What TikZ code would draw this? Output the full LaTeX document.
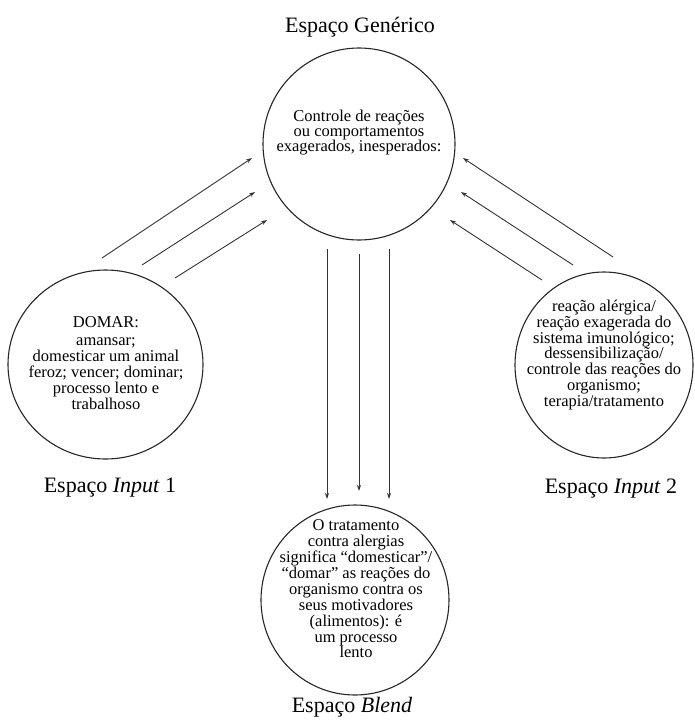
\documentclass[tikz,border=0pt]{standalone}
\usepackage{fontspec}
\setmainfont{Liberation Serif}
\newfontfamily\capserif{Liberation Serif}
\usetikzlibrary{arrows.meta,shapes.geometric}
\begin{document}
\begin{tikzpicture}[x=1pt,y=-1pt,
  space/.style={draw=black!85,line width=1.1pt,ellipse,inner sep=0pt},
  spacetext/.style={align=center,inner sep=0pt,text=black},
  caption/.style={anchor=base,inner sep=0pt,text=black,font=\capserif\fontsize{22}{24}\selectfont},
  link/.style={draw=black!80,line width=0.9pt,-{Stealth[length=6pt,width=4pt]}}]
\useasboundingbox (0,0) rectangle (694,726);

% the four mental spaces
\node[space,minimum width=192pt,minimum height=192pt] (gen) at (359,144) {};
\node[space,minimum width=195pt,minimum height=189pt] (in1) at (105.5,364.5) {};
\node[space,minimum width=178pt,minimum height=186pt] (in2) at (604,365) {};
\node[space,minimum width=188pt,minimum height=190pt] (bl) at (355,600) {};

% contents of each space
\node[spacetext,font=\capserif\fontsize{16.5}{15}\selectfont] (gentext) at (359,133)
  {Controle de reações\\ou comportamentos\\exagerados, inesperados:};
\node[spacetext,font=\capserif\fontsize{16.5}{16}\selectfont] (in1text) at (106,363)
  {DOMAR:\\[2.5pt]amansar;\\domesticar um animal\\feroz; vencer; dominar;\\processo lento e\\trabalhoso};
\node[spacetext,font=\capserif\fontsize{16.5}{15.7}\selectfont] (in2text) at (604,355)
  {reação alérgica/\\reação exagerada do\\sistema imunológico;\\dessensibilização/\\controle das reações do\\organismo;\\terapia/tratamento};
\node[spacetext,font=\capserif\fontsize{16.5}{15.9}\selectfont] (bltext) at (356,589)
  {O tratamento\\contra alergias\\significa “domesticar”/\\“domar” as reações do\\organismo contra os\\seus motivadores\\(alimentos): é\\um processo\\lento};

% captions
\node[caption] (gencap) at (360,32) {Espaço Genérico};
\node[caption] (in1cap) at (110,492) {Espaço \textit{Input} 1};
\node[caption] (in2cap) at (611,493) {Espaço \textit{Input} 2};
\node[caption] (blcap) at (352,712) {Espaço \textit{Blend}};

% arrow end points
\coordinate (l1s) at (102,258); \coordinate (l1e) at (252,158);
\coordinate (l2s) at (142,265); \coordinate (l2e) at (255,192);
\coordinate (l3s) at (175,278); \coordinate (l3e) at (267,220);
\coordinate (r1s) at (613,257); \coordinate (r1e) at (463,158);
\coordinate (r2s) at (573,265); \coordinate (r2e) at (461,192);
\coordinate (r3s) at (542,280); \coordinate (r3e) at (450,220);
\coordinate (d1s) at (327,249); \coordinate (d1e) at (327,499);
\coordinate (d2s) at (359,254); \coordinate (d2e) at (359,491);
\coordinate (d3s) at (389,249); \coordinate (d3e) at (389,499);

% projections between the spaces
\draw[link] (l1s) -- (l1e);
\draw[link] (l2s) -- (l2e);
\draw[link] (l3s) -- (l3e);
\draw[link] (r1s) -- (r1e);
\draw[link] (r2s) -- (r2e);
\draw[link] (r3s) -- (r3e);
\draw[link] (d1s) -- (d1e);
\draw[link] (d2s) -- (d2e);
\draw[link] (d3s) -- (d3e);
\end{tikzpicture}
\end{document}
